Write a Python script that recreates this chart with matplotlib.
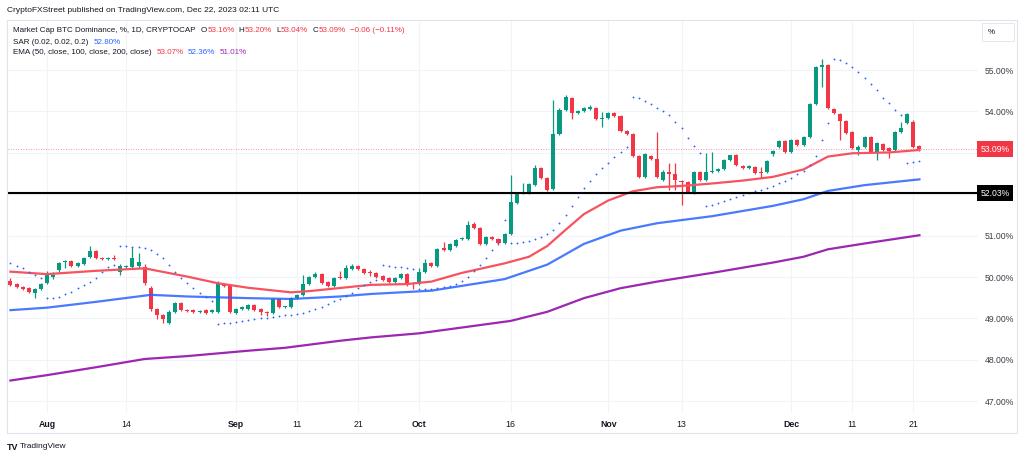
import matplotlib
matplotlib.use("Agg")
import matplotlib.pyplot as plt
import matplotlib.dates as mdates
import matplotlib.transforms as mtransforms
from matplotlib.patches import Rectangle
import numpy as np
import pandas as pd

plt.rcParams['font.family'] = ['Liberation Sans', 'DejaVu Sans']

# daily candles, Jul 26 .. Dec 22 2023 (BTC dominance, %)
opens_jul = [49.90, 49.83, 49.76, 49.73, 49.61, 49.71]
highs_jul = [49.98, 49.86, 49.78, 49.76, 49.73, 49.86]
lows_jul = [49.78, 49.73, 49.69, 49.61, 49.49, 49.69]
closes_jul = [49.81, 49.76, 49.71, 49.64, 49.71, 49.83]

opens_aug = [49.86, 50.00, 50.17, 50.36, 50.39, 50.27, 50.31, 50.48, 50.63, 50.46, 50.44, 50.46, 50.12, 50.24, 50.24, 50.27,
             50.24, 49.73, 49.23, 49.08, 48.89, 49.15, 49.37, 49.20, 49.20, 49.16, 49.20, 49.15, 49.15, 49.83, 49.81]
highs_aug = [50.14, 50.12, 50.36, 50.41, 50.41, 50.36, 50.48, 50.75, 50.65, 50.48, 50.48, 50.53, 50.31, 50.29, 50.72, 50.58,
             50.31, 49.78, 49.25, 49.11, 49.20, 49.40, 49.40, 49.23, 49.23, 49.20, 49.23, 49.23, 49.90, 49.86, 49.83]
lows_aug = [49.83, 49.95, 50.12, 50.22, 50.24, 50.24, 50.29, 50.46, 50.43, 50.41, 50.42, 50.41, 50.05, 50.22, 50.22, 50.22,
            49.81, 49.18, 48.99, 48.89, 48.86, 49.13, 49.18, 49.15, 49.13, 49.14, 49.11, 49.13, 49.13, 49.76, 49.13]
closes_aug = [50.10, 50.05, 50.34, 50.39, 50.27, 50.34, 50.46, 50.63, 50.46, 50.43, 50.46, 50.44, 50.27, 50.25, 50.46, 50.36,
              49.86, 49.23, 49.08, 48.99, 49.15, 49.37, 49.20, 49.18, 49.15, 49.17, 49.13, 49.20, 49.86, 49.78, 49.15]

opens_sep = [49.13, 49.23, 49.23, 49.32, 49.23, 49.15, 49.13, 49.47, 49.27, 49.28, 49.49, 49.57, 49.83, 50.00, 50.07,
             49.88, 49.78, 50.00, 49.98, 50.19, 50.27, 50.19, 50.10, 50.10, 50.02, 49.98, 49.88, 49.98, 50.07, 49.84]
highs_sep = [49.25, 49.30, 49.35, 49.35, 49.25, 49.18, 49.49, 49.49, 49.30, 49.52, 49.59, 50.05, 50.02, 50.12, 50.10,
             49.90, 50.00, 50.14, 50.29, 50.31, 50.29, 50.22, 50.17, 50.12, 50.05, 50.00, 50.00, 50.10, 50.10, 49.88]
lows_sep = [49.11, 49.20, 49.20, 49.18, 49.08, 49.05, 49.11, 49.25, 49.25, 49.25, 49.47, 49.54, 49.81, 49.98, 49.83,
            49.76, 49.76, 49.95, 49.95, 50.17, 50.17, 50.07, 50.02, 49.98, 49.90, 49.86, 49.86, 49.95, 49.78, 49.71]
closes_sep = [49.23, 49.28, 49.32, 49.20, 49.15, 49.13, 49.47, 49.28, 49.28, 49.49, 49.57, 49.83, 50.00, 50.07, 49.86,
              49.78, 49.98, 49.98, 50.22, 50.27, 50.19, 50.10, 50.09, 50.00, 49.93, 49.88, 49.98, 50.07, 49.83, 49.83]

opens_oct = [49.83, 50.12, 50.34, 50.27, 50.70, 50.65, 50.75, 50.92, 50.92, 51.28, 51.18, 50.80, 50.97, 50.92, 50.82, 51.04,
             51.79, 52.03, 52.03, 52.22, 52.63, 52.39, 52.13, 53.45, 54.03, 54.32, 53.96, 54.01, 54.06, 54.08, 53.82]
highs_oct = [50.22, 50.43, 50.36, 50.70, 50.85, 50.82, 50.92, 50.97, 51.35, 51.33, 51.21, 50.99, 50.99, 50.94, 51.06, 52.46,
             52.05, 52.27, 52.27, 52.71, 52.66, 52.42, 54.28, 54.08, 54.40, 54.35, 54.03, 54.11, 54.15, 54.11, 53.99]
lows_oct = [49.81, 50.10, 50.24, 50.24, 50.63, 50.63, 50.72, 50.89, 50.89, 51.16, 50.77, 50.77, 50.89, 50.77, 50.80, 51.01,
            51.76, 52.01, 52.01, 52.20, 52.37, 52.08, 52.10, 53.43, 54.01, 53.82, 53.94, 53.99, 54.03, 53.79, 53.62]
closes_oct = [50.12, 50.34, 50.27, 50.68, 50.65, 50.80, 50.89, 50.94, 51.26, 51.18, 50.80, 50.97, 50.92, 50.82, 51.04, 51.81,
              52.03, 52.05, 52.25, 52.63, 52.39, 52.10, 53.45, 54.03, 54.35, 53.96, 54.01, 54.08, 54.11, 53.82, 53.84]

opens_nov = [53.84, 53.96, 53.89, 53.53, 53.45, 52.92, 52.42, 52.92, 52.85, 52.34, 52.54, 52.49, 52.30, 52.29, 52.03,
             52.54, 52.34, 52.54, 52.56, 52.61, 52.83, 52.95, 52.68, 52.63, 52.66, 52.52, 52.54, 52.97, 53.14, 53.29]
highs_nov = [53.99, 53.99, 53.91, 53.55, 53.48, 52.95, 53.00, 52.95, 53.50, 52.58, 52.75, 52.75, 52.34, 52.32, 52.56,
             52.56, 53.00, 53.02, 52.63, 52.85, 52.95, 52.97, 52.71, 52.71, 52.68, 52.66, 52.83, 53.07, 53.31, 53.31]
lows_nov = [53.82, 53.86, 53.50, 53.43, 52.90, 52.39, 52.39, 52.83, 52.39, 52.32, 52.10, 52.10, 51.74, 52.03, 52.01,
            52.32, 52.32, 52.51, 52.54, 52.58, 52.80, 52.68, 52.61, 52.61, 52.49, 52.39, 52.51, 52.92, 53.12, 53.00]
closes_nov = [53.96, 53.89, 53.53, 53.45, 52.92, 52.42, 52.97, 52.85, 52.42, 52.54, 52.49, 52.34, 52.29, 52.05, 52.54,
              52.34, 52.54, 52.56, 52.61, 52.83, 52.95, 52.71, 52.63, 52.68, 52.51, 52.51, 52.80, 53.04, 53.29, 53.02]

opens_dec = [53.02, 53.31, 53.19, 53.38, 54.18, 55.07, 55.12, 54.06, 53.94, 53.77, 53.50, 53.07, 53.14, 53.38, 53.02,
             53.21, 53.12, 53.07, 53.50, 53.72, 53.74, 53.16]
highs_dec = [53.33, 53.33, 53.41, 54.20, 55.10, 55.27, 55.14, 54.08, 53.96, 53.79, 53.53, 53.19, 53.41, 53.41, 53.26,
             53.24, 53.14, 53.53, 53.74, 53.96, 53.79, 53.20]
lows_dec = [53.00, 53.16, 53.16, 53.36, 54.15, 54.59, 54.06, 53.94, 53.31, 53.45, 53.09, 52.95, 53.12, 53.00, 52.83,
            53.04, 52.87, 53.04, 53.48, 53.70, 53.12, 53.04]
closes_dec = [53.31, 53.19, 53.38, 54.18, 55.07, 55.12, 54.08, 53.96, 53.77, 53.48, 53.12, 53.14, 53.38, 53.02, 53.24,
              53.07, 53.04, 53.50, 53.60, 53.94, 53.14, 53.09]

# parabolic SAR (0.02, 0.02, 0.2), one dot per day
sar_jul = [50.34, 50.27, 50.22, 50.12, 50.05, 49.98]
sar_aug = [49.49, 49.49, 49.52, 49.59, 49.64, 49.73, 49.81, 49.88, 49.98, 50.12, 50.24, 50.29, 50.75, 50.75, 50.72, 50.72,
           50.70, 50.65, 50.56, 50.46, 50.29, 50.12, 49.98, 49.86, 49.73, 49.61, 49.52, 49.42, 48.86, 48.89, 48.89]
sar_sep = [48.91, 48.94, 48.96, 48.99, 49.01, 49.02, 49.03, 49.06, 49.08, 49.08, 49.11, 49.13, 49.18, 49.23, 49.28,
           49.35, 49.42, 49.47, 49.54, 49.61, 49.73, 49.81, 49.88, 49.93, 50.29, 50.27, 50.24, 50.24, 50.22, 50.19]
sar_oct = [49.71, 49.71, 49.71, 49.73, 49.76, 49.78, 49.83, 49.90, 50.00, 50.14, 50.29, 50.46, 50.65, 50.82, 51.38, 50.82,
           50.82, 50.85, 50.87, 50.92, 50.97, 51.04, 51.14, 51.30, 51.50, 51.71, 51.93, 52.15, 52.32, 52.49, 52.63]
sar_nov = [52.75, 52.90, 53.02, 53.14, 54.35, 54.32, 54.25, 54.18, 54.08, 54.01, 53.91, 53.74, 53.60, 53.36, 53.16,
           53.00, 51.71, 51.74, 51.79, 51.84, 51.88, 51.93, 51.98, 52.03, 52.08, 52.10, 52.15, 52.20, 52.27, 52.32]
sar_dec = [52.39, 52.49, 52.56, 52.71, 52.92, 53.31, 53.72, 55.27, 55.24, 55.17, 55.07, 54.95, 54.81, 54.66, 54.52,
           54.32, 54.20, 54.03, 53.91, 52.75, 52.78, 52.80]

# EMA lines at a few dates
ema50_dates = ["2023-07-26", "2023-08-01", "2023-08-09", "2023-08-17", "2023-08-24", "2023-08-29", "2023-09-03",
               "2023-09-10", "2023-09-13", "2023-09-19", "2023-09-23", "2023-09-29", "2023-10-03", "2023-10-08",
               "2023-10-15", "2023-10-19", "2023-10-22", "2023-10-25", "2023-10-28", "2023-11-01", "2023-11-05",
               "2023-11-09", "2023-11-13", "2023-11-18", "2023-11-23", "2023-11-28", "2023-12-03", "2023-12-07",
               "2023-12-11", "2023-12-17", "2023-12-22"]
ema50 = [50.13, 50.07, 50.15, 50.21, 50.01, 49.85, 49.74, 49.63, 49.66, 49.75, 49.81, 49.83, 49.89, 50.10,
         50.33, 50.49, 50.75, 51.14, 51.52, 51.85, 52.07, 52.17, 52.20, 52.26, 52.33, 52.42, 52.60, 52.91,
         52.99, 53.01, 53.07]
ema100_dates = ["2023-07-26", "2023-08-01", "2023-08-09", "2023-08-18", "2023-08-24", "2023-09-03", "2023-09-10",
                "2023-09-18", "2023-09-23", "2023-10-03", "2023-10-09", "2023-10-15", "2023-10-22", "2023-10-28",
                "2023-11-03", "2023-11-09", "2023-11-18", "2023-11-28", "2023-12-03", "2023-12-07", "2023-12-13",
                "2023-12-22"]
ema100 = [49.20, 49.26, 49.40, 49.57, 49.53, 49.49, 49.47, 49.53, 49.59, 49.67, 49.81, 49.95, 50.30, 50.80,
          51.12, 51.30, 51.47, 51.72, 51.88, 52.08, 52.22, 52.36]
ema200_dates = ["2023-07-26", "2023-08-01", "2023-08-09", "2023-08-17", "2023-08-24", "2023-09-03", "2023-09-09",
                "2023-09-18", "2023-09-23", "2023-10-01", "2023-10-09", "2023-10-16", "2023-10-22", "2023-10-28",
                "2023-11-03", "2023-11-09", "2023-11-18", "2023-11-28", "2023-12-03", "2023-12-07", "2023-12-13",
                "2023-12-22"]
ema200 = [47.50, 47.63, 47.82, 48.02, 48.09, 48.22, 48.29, 48.46, 48.54, 48.64, 48.80, 48.94, 49.16, 49.49,
          49.73, 49.89, 50.10, 50.35, 50.49, 50.67, 50.81, 51.01]

tick_dates = ["2023-08-01", "2023-08-14", "2023-09-01", "2023-09-11", "2023-09-21", "2023-10-01", "2023-10-16",
              "2023-11-01", "2023-11-13", "2023-12-01", "2023-12-11", "2023-12-21"]
tick_labels = ["Aug", "14", "Sep", "11", "21", "Oct", "16", "Nov", "13", "Dec", "11", "21"]
month_labels = {"Aug", "Sep", "Oct", "Nov", "Dec"}
y_ticks = [47, 48, 49, 50, 51, 52, 53, 54, 55]
y_hidden = {52, 53}  # covered by the price labels

last_close = 53.09
hline_level = 52.03

GREEN = '#089981'
RED = '#f23645'
BLUE = '#2962ff'
PURPLE = '#9c27b0'
TEXT = '#131722'

opens = np.array(opens_jul + opens_aug + opens_sep + opens_oct + opens_nov + opens_dec)
highs = np.array(highs_jul + highs_aug + highs_sep + highs_oct + highs_nov + highs_dec)
lows = np.array(lows_jul + lows_aug + lows_sep + lows_oct + lows_nov + lows_dec)
closes = np.array(closes_jul + closes_aug + closes_sep + closes_oct + closes_nov + closes_dec)
sar = np.array(sar_jul + sar_aug + sar_sep + sar_oct + sar_nov + sar_dec)
dates = pd.date_range("2023-07-26", "2023-12-22", freq="D")
x = mdates.date2num(dates)

W, H = 1024, 459
fig = plt.figure(figsize=(W / 100, H / 100), dpi=100)
ax = fig.add_axes([8 / W, 46 / H, 970 / W, 393 / H])

# candles
up = closes >= opens
cols = np.where(up, GREEN, RED)
body_lo = np.minimum(opens, closes)
body_h = np.maximum(np.abs(closes - opens), 0.022)
ax.vlines(x, lows, highs, colors=cols, lw=0.9, zorder=2)
ax.bar(x, body_h, bottom=body_lo, width=0.66, color=cols, linewidth=0, zorder=2.5)

# indicators
ax.plot(mdates.date2num(pd.to_datetime(ema200_dates)), ema200, color=PURPLE, lw=1.6, zorder=3)
ax.plot(mdates.date2num(pd.to_datetime(ema100_dates)), ema100, color=BLUE, lw=1.6, zorder=3, alpha=0.85)
ax.plot(mdates.date2num(pd.to_datetime(ema50_dates)), ema50, color='#f7525f', lw=1.6, zorder=3)
ax.scatter(x, sar, s=1.8, color=BLUE, linewidths=0, zorder=4)

ax.axhline(hline_level, color='black', lw=1.5, zorder=5)
ax.axhline(last_close, color=RED, lw=0.6, ls=(0, (1, 2)), alpha=0.7, zorder=1)

x0 = mdates.date2num(pd.Timestamp("2023-08-01"))
ax.set_xlim(x0 - 6.4, x0 + 152.6)
ax.set_ylim(46.715, 56.21)

ax.set_xticks(mdates.date2num(pd.to_datetime(tick_dates)))
ax.set_xticklabels(tick_labels)
for lab in ax.get_xticklabels():
    if lab.get_text() in month_labels:
        lab.set_fontweight('bold')
ax.set_yticks(y_ticks)
ax.set_yticklabels(["" if v in y_hidden else f"{v:.2f}%" for v in y_ticks])
ax.yaxis.tick_right()
ax.tick_params(axis='x', length=0, pad=5, labelsize=6.3, labelcolor=TEXT)
ax.tick_params(axis='y', length=0, pad=5, labelsize=6.2, labelcolor='#3b3e48')
ax.grid(True, color='#f0f3fa', lw=0.8, zorder=0)
ax.set_axisbelow(True)
for s in ax.spines.values():
    s.set_visible(False)

# price labels on the right scale
trans = mtransforms.blended_transform_factory(ax.transAxes, ax.transData)
ax.text(1.003, last_close, f"{last_close:.2f}%", transform=trans, color='white', fontsize=6.2, va='center',
        ha='left', bbox=dict(boxstyle='square,pad=0.4', fc=RED, ec='none'), zorder=6, clip_on=False)
ax.text(1.003, hline_level, f"{hline_level:.2f}%", transform=trans, color='white', fontsize=6.2, va='center',
        ha='left', bbox=dict(boxstyle='square,pad=0.4', fc='black', ec='none'), zorder=6, clip_on=False)

# chart frame and "%" button
fig.add_artist(Rectangle((7 / W, 1 - 433 / H), 1010 / W, 413 / H, fill=False, ec='#e0e3eb', lw=0.8,
                         transform=fig.transFigure))
fig.add_artist(Rectangle((982 / W, 1 - 41 / H), 32 / W, 18 / H, fill=True, fc='white', ec='#e0e3eb', lw=0.6,
                         transform=fig.transFigure))
fig.text(988 / W, 1 - 32 / H, "%", fontsize=5.8, color=TEXT, va='center')

# header
fig.text(7 / W, 1 - 10 / H, "CryptoFXStreet published on TradingView.com, Dec 22, 2023 02:11 UTC",
         fontsize=6.0, color=TEXT, va='center')
renderer = fig.canvas.get_renderer()


def chain(x_px, y_px, parts, size=5.8):
    # draw coloured text pieces one after another on a line
    for txt, col, gap in parts:
        t = fig.text(x_px / W, 1 - y_px / H, txt, fontsize=size, color=col, va='center')
        x_px += t.get_window_extent(renderer).width + gap


chain(13, 31, [("Market Cap BTC Dominance, %, 1D, CRYPTOCAP", TEXT, 5), ("O", TEXT, 0.5), ("53.16%", RED, 4),
               ("H", TEXT, 0.5), ("53.20%", RED, 4), ("L", TEXT, 0.5), ("53.04%", RED, 4), ("C", TEXT, 0.5),
               ("53.09%", RED, 4), ("\u22120.06 (\u22120.11%)", RED, 0)])
chain(13, 42, [("SAR (0.02, 0.02, 0.2)", TEXT, 5), ("52.80%", BLUE, 0)])
chain(13, 53, [("EMA (50, close, 100, close, 200, close)", TEXT, 5), ("53.07%", RED, 4), ("52.36%", BLUE, 4),
               ("51.01%", PURPLE, 0)])

# footer logo
fig.text(7 / W, 1 - 447 / H, "TV", fontsize=6.5, fontweight='heavy', color=TEXT, va='center')
fig.text(20 / W, 1 - 447 / H, "TradingView", fontsize=6.0, color=TEXT, va='center')

fig.savefig("out.png", dpi=100)
